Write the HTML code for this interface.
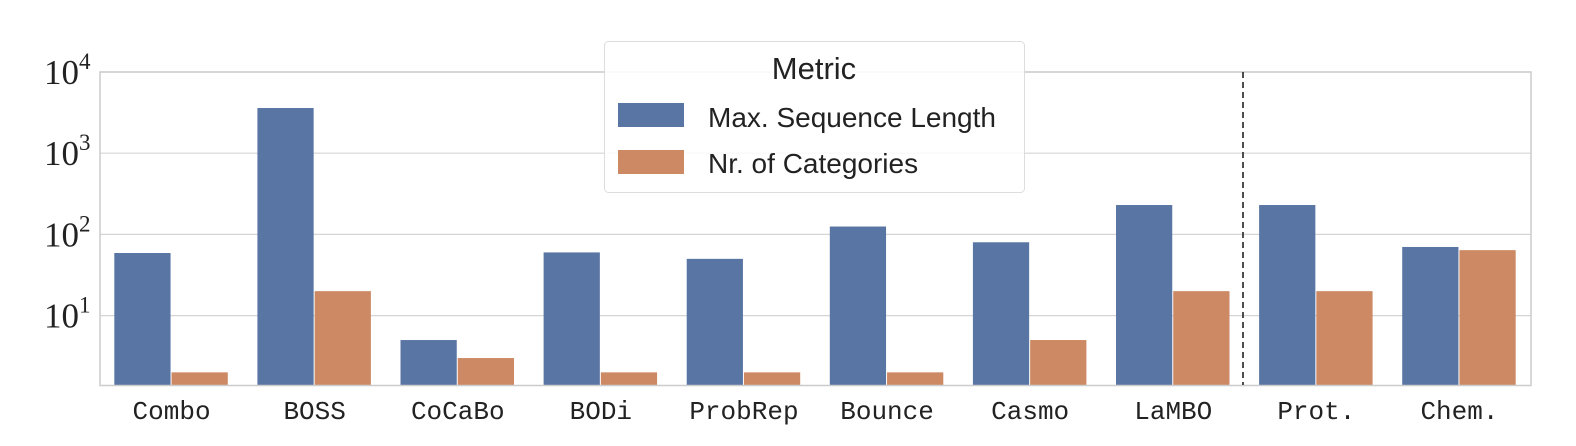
<!DOCTYPE html>
<html><head><meta charset="utf-8"><style>
html,body{margin:0;padding:0;background:#fff;overflow:hidden;width:1576px;height:446px;}
svg{display:block;}
svg text{font-family:"Liberation Serif",serif;}
</style></head><body>
<svg width="1576" height="446" viewBox="0 0 1576 446" xmlns="http://www.w3.org/2000/svg">
<g id="grid"></g>
<g id="bars"></g>
<g id="axes"></g>
<line x1="1243" y1="72" x2="1243" y2="385" stroke="#222" stroke-width="1.6" stroke-dasharray="6,4"/>
<g>
<rect x="604.5" y="41.5" width="420" height="151" rx="4" fill="#fff" fill-opacity="0.85" stroke="#ddd"/>
<text x="814" y="79" font-size="31" text-anchor="middle" style="font-family:'Liberation Sans',sans-serif" fill="#222">Metric</text>
<rect x="618" y="103" width="66" height="24" fill="#5975a4"/>
<text x="708" y="127" font-size="28" style="font-family:'Liberation Sans',sans-serif" fill="#222">Max. Sequence Length</text>
<rect x="618" y="150" width="66" height="24" fill="#cc8963"/>
<text x="708" y="173" font-size="28" style="font-family:'Liberation Sans',sans-serif" fill="#222">Nr. of Categories</text>
</g>
</svg>
<script>
const categories=["Combo","BOSS","CoCaBo","BODi","ProbRep","Bounce","Casmo","LaMBO","Prot.","Chem."];
const seqLength=[59,3600,5,60,50,125,80,230,230,70];
const nrCategories=[2,20,3,2,2,2,5,20,20,64];
const yTicks=[1,2,3,4];
const svgNS="http://www.w3.org/2000/svg";
const L=100,R=1531,T=72,B=385.5,dec=81.2;
function y(v){return T+(4-Math.log10(v))*dec;}
function bandX(i){return L+i*(R-L)/categories.length;}
const bw=(R-L)/categories.length;
function mk(tag,attrs,parent){const e=document.createElementNS(svgNS,tag);for(const k in attrs)e.setAttribute(k,attrs[k]);document.getElementById(parent).appendChild(e);return e;}
yTicks.forEach(t=>{
 const g=mk('line',{x1:L,x2:R,y1:y(Math.pow(10,t)),y2:y(Math.pow(10,t)),stroke:'#d5d5d5','stroke-width':1.2},'grid');
 
 
 const tx=mk('text',{x:44,y:y(Math.pow(10,t))+12,'font-size':35,fill:'#222'},'axes');
 
 
 tx.textContent='10';
 const sup=document.createElementNS(svgNS,'tspan');
 sup.setAttribute('dy','-15');sup.setAttribute('font-size','23');sup.textContent=String(t);
 tx.appendChild(sup);
});
categories.forEach((c,i)=>{
 const x0=bandX(i)+bw*0.1, w=bw*0.4;
 const b1=mk('rect',{x:x0,y:y(seqLength[i]),width:w-1,height:B-y(seqLength[i]),fill:'#5975a4'},'bars');
 
 
 const b2=mk('rect',{x:x0+w,y:y(nrCategories[i]),width:w-1,height:B-y(nrCategories[i]),fill:'#cc8963'},'bars');
 
 
 const tl=mk('text',{x:bandX(i)+bw/2,y:419,'font-size':26,'text-anchor':'middle',fill:'#222',style:"font-family:'Liberation Mono',monospace"},'axes');
 
 
 tl.textContent=c;
});
const fr=mk('rect',{x:L,y:T,width:R-L,height:B-T,fill:'none',stroke:'#ccc','stroke-width':1.5},'axes');


</script>
</body></html>
